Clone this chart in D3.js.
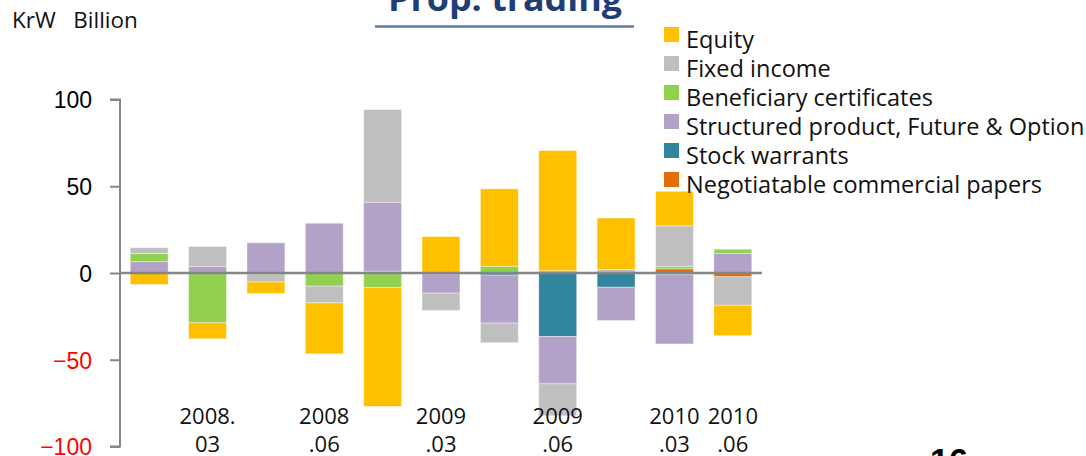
<!DOCTYPE html>
<html><head><meta charset="utf-8">
<script src="https://cdn.jsdelivr.net/npm/d3@7"></script>
<style>
html,body{margin:0;padding:0;background:#fff;}
svg{display:block;}
</style></head>
<body>
<svg id="chart" width="1086" height="456"></svg>
<script>
// ---- data ----
const categories = ["Q1","Q2","Q3","Q4","Q5","Q6","Q7","Q8","Q9","Q10","Q11"];
const tickLabels = ["", "2008.\n03", "", "2008\n.06", "", "2009\n.03", "", "2009\n.06", "", "2010\n.03", "2010\n.06"];
const seriesNames = ["Equity","Fixed income","Beneficiary certificates","Structured product, Future & Option","Stock warrants","Negotiatable commercial papers"];
const seriesColors = ["#FFC000","#BFBFBF","#92D050","#B3A2C7","#31859C","#E46C0A"];
const equity      = [-6.6, -9.2, -6.6, -29.4, -68.4, 21.0, 44.6, 69.3, 29.7, 19.9, -17.5];
const fixedIncome = [3.3, 11.4, -4.7, -9.6, 53.4, -10.0, -11.3, -18.4, 2.0, 23.5, -16.4];
const beneficiary = [4.8, -28.7, -0.5, -7.6, -8.5, 0, 3.9, 1.3, 0, 1.3, 2.3];
const structured  = [6.5, 3.9, 17.4, 28.7, 39.8, -11.1, -27.7, -27.3, -19.2, -39.9, 11.4];
const warrants    = [0, 0, 0, 0, 0, 0, -1.2, -36.6, -8.2, -1.0, 0];
const cpapers     = [0, 0, 0, 0, 1.0, -0.5, 0, 0, 0, 2.4, -2.2];
const yTicks = [100, 50, 0, -50, -100];

const seriesValues = [equity, fixedIncome, beneficiary, structured, warrants, cpapers];
// stacking order outward from zero: papers, warrants, structured, beneficiary, fixed, equity
const stackOrder = [5, 4, 3, 2, 1, 0];

const svg = d3.select("#chart");

const x = d3.scaleBand().domain(categories).range([120, 762]).paddingInner(0.35).paddingOuter(0.175);
const y = d3.scaleLinear().domain([-100, 100]).range([446.5, 99.5]);

// Build stacked segments
const segs = [];
categories.forEach((c, i) => {
  let pos = 0, neg = 0;
  stackOrder.forEach(s => {
    const v = seriesValues[s][i];
    if (!v) return;
    let y0, y1;
    if (v > 0) { y0 = pos; y1 = pos + v; pos = y1; }
    else { y0 = neg; y1 = neg + v; neg = y1; }
    segs.push({c, s, y0, y1});
  });
});

svg.append("g").selectAll("rect").data(segs).join("rect")
  .attr("x", d => x(d.c))
  .attr("width", x.bandwidth())
  .attr("y", d => y(Math.max(d.y0, d.y1)))
  .attr("height", d => Math.abs(y(d.y0) - y(d.y1)))
  .attr("fill", d => seriesColors[d.s])
  .attr("stroke", "#ffffff")
  .attr("stroke-opacity", 0.5)
  .attr("stroke-width", 0.8);

// y axis
const yAxis = d3.axisLeft(y).tickValues(yTicks).tickSize(10).tickPadding(18).tickFormat(d3.format("d"));
const gy = svg.append("g").attr("transform", "translate(120,0)").call(yAxis);
gy.select(".domain").attr("stroke", "#868686").attr("stroke-width", 2).attr("d", `M-10,${y(100)}H0V${y(-100)}H-10`);
gy.selectAll(".tick line").attr("stroke", "#868686").attr("stroke-width", 2);
gy.selectAll(".tick text")
  .attr("font-family", "'Liberation Sans', Arial, sans-serif")
  .attr("font-size", 23)
  .attr("dy", "0.36em")
  .attr("fill", d => d < 0 ? "#FF0000" : "#000");

// zero line
svg.append("line").attr("x1", 120).attr("x2", 762).attr("y1", y(0)).attr("y2", y(0))
  .attr("stroke", "#868686").attr("stroke-width", 2.5);

// x labels
const xl = svg.append("g");
categories.forEach((c, i) => {
  const lab = tickLabels[i];
  if (!lab) return;
  const lines = lab.split("\n");
  const t = xl.append("text")
    .attr("x", x(c) + x.bandwidth() / 2)
    .attr("y", 424)
    .attr("text-anchor", "middle")
    .attr("font-family", "'Open Sans', sans-serif")
    .attr("font-size", 22)
    .attr("fill", "#111");
  lines.forEach((l, k) => t.append("tspan").attr("x", x(c) + x.bandwidth() / 2).attr("dy", k ? 28 : 0).text(l));
});

// unit label
svg.append("text").attr("x", 12).attr("y", 28)
  .attr("font-family", "'Open Sans', sans-serif").attr("font-size", 22.5).attr("fill", "#111")
  .attr("xml:space", "preserve").text("KrW   Billion");

// title (cut off at the top)
svg.append("text").attr("x", 505).attr("y", 11).attr("text-anchor", "middle")
  .attr("font-family", "'Open Sans', sans-serif").attr("font-weight", "bold").attr("font-size", 34)
  .attr("fill", "#1F3E78").attr("textLength", 234).attr("lengthAdjust", "spacingAndGlyphs")
  .text("Prop. trading");
svg.append("line").attr("x1", 375).attr("x2", 634).attr("y1", 26.5).attr("y2", 26.5)
  .attr("stroke", "#5C7BA6").attr("stroke-width", 2.5);

// legend
const lg = svg.append("g");
seriesNames.forEach((n, i) => {
  const yy = 27 + i * 29;
  lg.append("rect").attr("x", 664).attr("y", yy).attr("width", 15).attr("height", 15).attr("fill", seriesColors[i]);
  lg.append("text").attr("x", 686).attr("y", yy + 21)
    .attr("font-family", "'Open Sans', sans-serif").attr("font-size", 23.5).attr("fill", "#111")
    .text(n);
});

// page number (cut off at the bottom)
svg.append("text").attr("x", 930).attr("y", 472)
  .attr("font-family", "'Liberation Sans', Arial, sans-serif").attr("font-weight", "bold").attr("font-size", 34)
  .attr("fill", "#000").text("16");
</script>
</body></html>
